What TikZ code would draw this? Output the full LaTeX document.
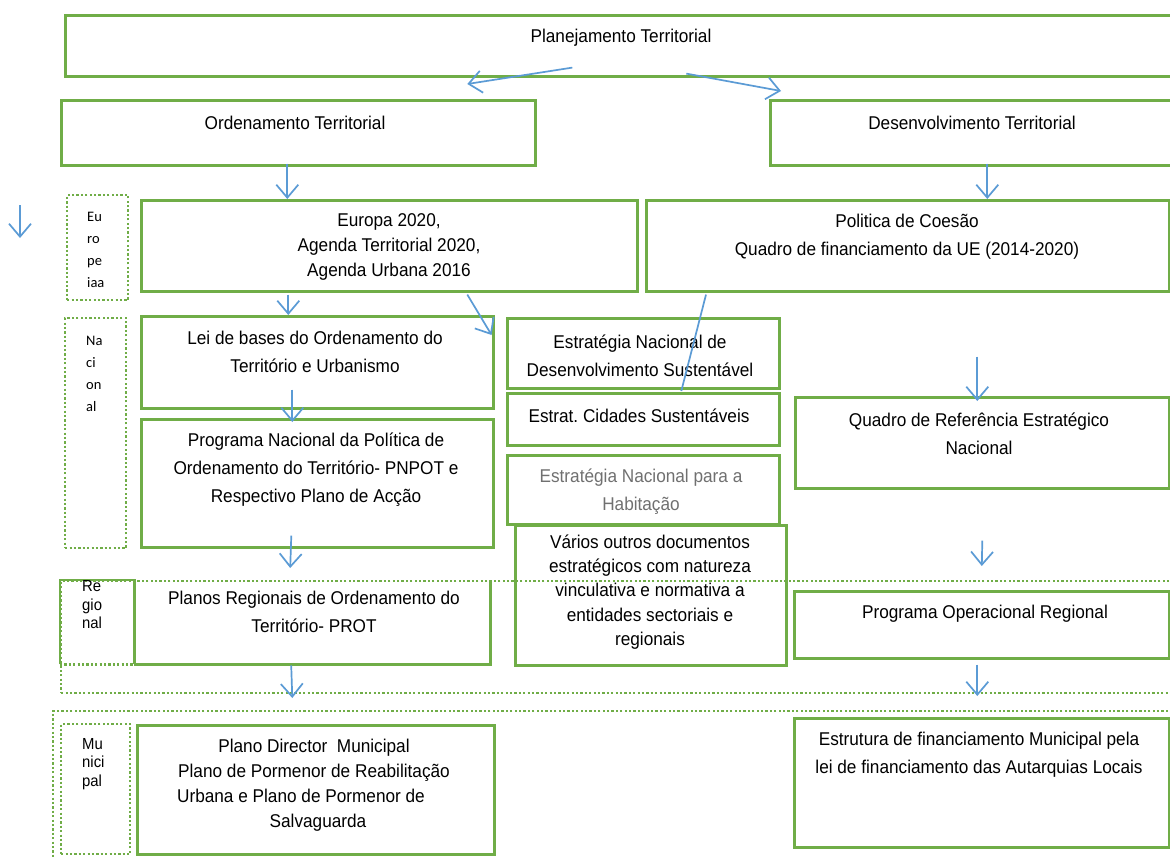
\documentclass[tikz,border=0pt]{standalone}
\usepackage{fontspec}
\setmainfont{Liberation Sans}[FakeStretch=0.93]
\newfontfamily\calfont{Carlito}
\usetikzlibrary{arrows.meta}
\definecolor{boxgreen}{HTML}{70AD47}
\definecolor{arrowblue}{HTML}{5B9BD5}
\definecolor{softgray}{HTML}{707070}

\begin{document}
\begin{tikzpicture}[x=1pt, y=-1pt,
  gbox/.style = {draw=boxgreen, line width=2.6pt, rectangle, inner sep=0pt, anchor=north west},
  dotbox/.style = {draw=boxgreen, line width=2.2pt, dash pattern=on 2.2pt off 2.2pt, rectangle, inner sep=0pt, anchor=north west},
  openbox/.style = {rectangle, inner sep=0pt, anchor=north west},
  txt/.style = {align=center, inner sep=0pt, font=\frenchspacing\fontsize{18.5}{28}\selectfont},
  lvl/.style = {align=left, anchor=west, inner sep=0pt, font=\calfont\fontsize{14.5}{22}\selectfont},
  lvlb/.style = {align=left, anchor=west, inner sep=0pt, font=\fontsize{16}{18.5}\selectfont},
  arr/.style = {arrowblue, line width=1.7pt, -{Straight Barb[length=13pt,width=22pt]}},
  link/.style = {arrowblue, line width=1.7pt}]
\path[use as bounding box, fill=white] (0,0) rectangle (1170,857);

% dotted level frames
\node[dotbox, minimum width=61, minimum height=105] (euroBox) at (66,194) {};
\node[dotbox, minimum width=61, minimum height=230] (nacBox) at (64,317) {};
\node[dotbox, minimum width=1125, minimum height=112] (regBand) at (60,580) {};
\node[dotbox, minimum width=1133, minimum height=160] (munBand) at (52,710) {};
\node[dotbox, minimum width=69, minimum height=130] (munBox) at (60,723) {};

% boxes
\node[gbox, minimum width=1121, minimum height=61] (plan) at (64,14) {};
\node[gbox, minimum width=474, minimum height=65] (ord) at (60,99) {};
\node[gbox, minimum width=416, minimum height=65] (des) at (769,99) {};
\node[gbox, minimum width=496, minimum height=91] (euro) at (140,199) {};
\node[gbox, minimum width=523, minimum height=91] (pol) at (645,199) {};
\node[gbox, minimum width=352, minimum height=92] (lei) at (140,315) {};
\node[gbox, minimum width=352, minimum height=128] (pnpot) at (140,418) {};
\node[gbox, minimum width=272, minimum height=70] (ends) at (506,317) {};
\node[gbox, minimum width=272, minimum height=52] (cid) at (506,392) {};
\node[gbox, minimum width=272, minimum height=69] (enh) at (506,454) {};
\node[gbox, minimum width=271, minimum height=140] (var) at (514,524) {};
\node[gbox, minimum width=374, minimum height=91] (qren) at (794,396) {};
\node[openbox, minimum width=74, minimum height=84] (regBox) at (60,580) {};
\node[openbox, minimum width=355, minimum height=84] (prot) at (135,580) {};
\draw[boxgreen, line width=2.6pt] (regBox.south west) |- (regBox.north east) -- (regBox.south east);
\draw[boxgreen, line width=2.2pt, dash pattern=on 2.2pt off 2.2pt] (regBox.south west) -- (regBox.south east);
\draw[boxgreen, line width=2.6pt] (prot.north west) |- (prot.south east) -- (prot.north east);
\node[gbox, minimum width=375, minimum height=67] (por) at (793,590) {};
\node[gbox, minimum width=357, minimum height=129] (pdm) at (136,724) {};
\node[gbox, minimum width=375, minimum height=129] (estr) at (793,717) {};

% texts
\node[txt] (planT) at (621,38) {Planejamento Territorial};
\node[txt] (ordT) at (295,123) {Ordenamento Territorial};
\node[txt] (desT) at (972,123) {Desenvolvimento Territorial};
\node[txt, font=\fontsize{18.5}{25}\selectfont] (euroT) at (389,247) {Europa 2020,\\Agenda Territorial 2020,\\Agenda Urbana 2016};
\node[txt] (polT) at (907,237) {Politica de Coesão\\Quadro de financiamento da UE (2014-2020)};
\node[txt] (leiT) at (315,352) {Lei de bases do Ordenamento do\\Território e Urbanismo};
\node[txt] (pnpotT) at (316,470) {Programa Nacional da Política de\\Ordenamento do Território- PNPOT e\\Respectivo Plano de Acção};
\node[txt] (endsT) at (640,356) {Estratégia Nacional de\\Desenvolvimento Sustentável};
\node[txt] (cidT) at (639,416) {Estrat. Cidades Sustentáveis};
\node[txt, text=softgray] (enhT) at (641,492) {Estratégia Nacional para a\\Habitação};
\node[txt, font=\fontsize{18.5}{24.3}\selectfont] (varT) at (650,592) {Vários outros documentos\\estratégicos com natureza\\vinculativa e normativa a\\entidades sectoriais e\\regionais};
\node[txt] (qrenT) at (979,434) {Quadro de Referência Estratégico\\Nacional};
\node[txt] (protT) at (314,612) {Planos Regionais de Ordenamento do\\Território- PROT};
\node[txt] (porT) at (985,614) {Programa Operacional Regional};
\node[txt, font=\fontsize{18.5}{25}\selectfont] (pdmT) at (314,785) {Plano Director~ Municipal\\Plano de Pormenor de Reabilitação\\Urbana e Plano de Pormenor de\rule{26pt}{0pt}\\\rule{8pt}{0pt}Salvaguarda};
\node[txt] (estrT) at (979,755) {Estrutura de financiamento Municipal pela\\lei de financiamento das Autarquias Locais};

% level labels
\node[lvl] (euroLbl) at (87,250) {Eu\\ro\\pe\\iaa};
\node[lvl] (nacLbl) at (86,374) {Na\\ci\\on\\al};
\node[lvlb] (regLbl) at (82,605) {Re\\gio\\nal};
\node[lvlb] (munLbl) at (82,764) {Mu\\nici\\pal};

% arrows
\draw[arr] ([xshift=-53.5,yshift=10]plan.south) -- ([xshift=169,yshift=15]ord.north);
\draw[arr] ([xshift=60.5,yshift=4]plan.south) -- ([xshift=12,yshift=8]des.north west);
\draw[arr] ([xshift=-11,yshift=3]ord.south) -- ([xshift=-102]euro.north);
\draw[arr] ([xshift=9,yshift=3]des.south) -- ([xshift=79.5]pol.north);
\draw[arr] ([xshift=-101,yshift=-2]euro.south) -- ([xshift=-29]lei.north);
\draw[arr] ([xshift=78,yshift=-2]euro.south) -- ([xshift=-3,yshift=-20]lei.north east);
\draw[link] ([xshift=61,yshift=-2]pol.south west) -- ([xshift=38,yshift=1]cid.north);
\draw[arr] ([xshift=-25,yshift=20]lei.south) -- ([xshift=-25,yshift=-4]pnpot.north);
\draw[arr] ([xshift=69.5,yshift=-64]pol.south) -- ([xshift=-5,yshift=-5]qren.north);
\draw[arr] ([xshift=-26,yshift=13]pnpot.south) -- ([xshift=-22.5,yshift=12]prot.north);
\draw[arr] ([yshift=-51]qren.south) -- ([yshift=24]por.north);
\draw[arr] ([xshift=-21.5,yshift=-1]prot.south) -- ([xshift=-23.5,yshift=26]pdm.north);
\draw[arr] ([xshift=-4.5,yshift=-5]por.south) -- ([xshift=-4.5,yshift=21]estr.north);
\coordinate (stray) at (20,205);
\draw[arr] (stray) -- ++(0,33);
\end{tikzpicture}
\end{document}
